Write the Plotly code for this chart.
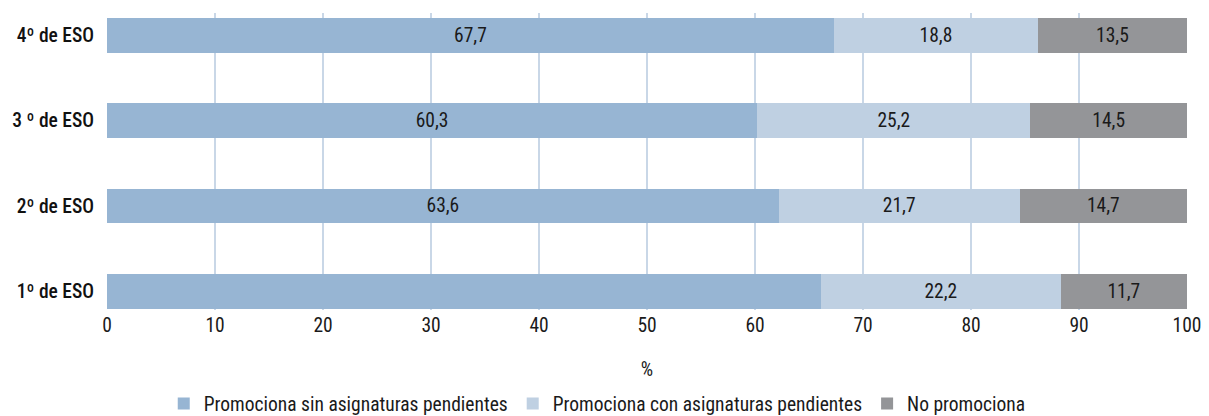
import plotly.graph_objects as go

courses = ["1º de ESO", "2º de ESO", "3 º de ESO", "4º de ESO"]
series_names = [
    "Promociona sin asignaturas pendientes",
    "Promociona con asignaturas pendientes",
    "No promociona",
]
# bar lengths as drawn (%)
sin_pend = [66.1, 62.2, 60.2, 67.3]
con_pend = [22.2, 22.3, 25.3, 18.9]
no_prom = [11.7, 15.5, 14.5, 13.8]
# printed labels
sin_lbl = ["", "63,6", "60,3", "67,7"]
con_lbl = ["22,2", "21,7", "25,2", "18,8"]
no_lbl = ["11,7", "14,7", "14,5", "13,5"]
x_ticks = [0, 10, 20, 30, 40, 50, 60, 70, 80, 90, 100]

colors = ["#97b5d3", "#bfd0e2", "#949598"]
FONT = "Roboto Condensed, Liberation Sans Narrow, Arial Narrow, DejaVu Sans Condensed, sans-serif"
FS = 19.5
TXT = "#1a1a1a"

fig = go.Figure()
for name, vals, lbls, col in zip(series_names, [sin_pend, con_pend, no_prom],
                                 [sin_lbl, con_lbl, no_lbl], colors):
    fig.add_trace(go.Bar(
        y=courses, x=vals, name=name, orientation="h",
        marker=dict(color=col, line=dict(width=0)),
        text=lbls, textposition="inside", insidetextanchor="middle",
        textfont=dict(family=FONT, size=FS, color=TXT),
        hoverinfo="skip",
    ))

fig.update_layout(
    barmode="stack",
    bargap=0.594,
    width=1209, height=416,
    margin=dict(l=107, r=22, t=13, b=106, autoexpand=False),
    plot_bgcolor="white", paper_bgcolor="white",
    font=dict(family=FONT, size=FS, color=TXT),
    showlegend=True,
    legend=dict(orientation="h", xref="container", x=0.494, xanchor="center",
                yref="container", y=0.029, yanchor="middle",
                font=dict(family=FONT, size=FS, color=TXT),
                traceorder="normal", itemwidth=30),
    uniformtext=dict(mode=False),
)
fig.update_xaxes(
    range=[0, 100], tickvals=x_ticks, ticktext=[str(t) for t in x_ticks],
    showgrid=True, gridcolor="#c9d7e7", gridwidth=1.5, zeroline=False,
    showline=False, ticks="", ticklabelstandoff=1, automargin=False,
    tickfont=dict(family=FONT, size=FS, color=TXT),
    title=dict(text="%", font=dict(family=FONT, size=FS, color=TXT), standoff=26),
)
fig.update_yaxes(
    categoryorder="array", categoryarray=courses, range=[-0.22, 3.26],
    showgrid=False, zeroline=False, showline=False, ticks="",
    ticklabelstandoff=12, automargin=False,
    tickfont=dict(family=FONT, size=FS, color="#111111", weight=500),
)
fig.write_html("out.html", config={"displayModeBar": False},
               post_script="document.body.style.margin='0';document.body.style.padding='0';")
